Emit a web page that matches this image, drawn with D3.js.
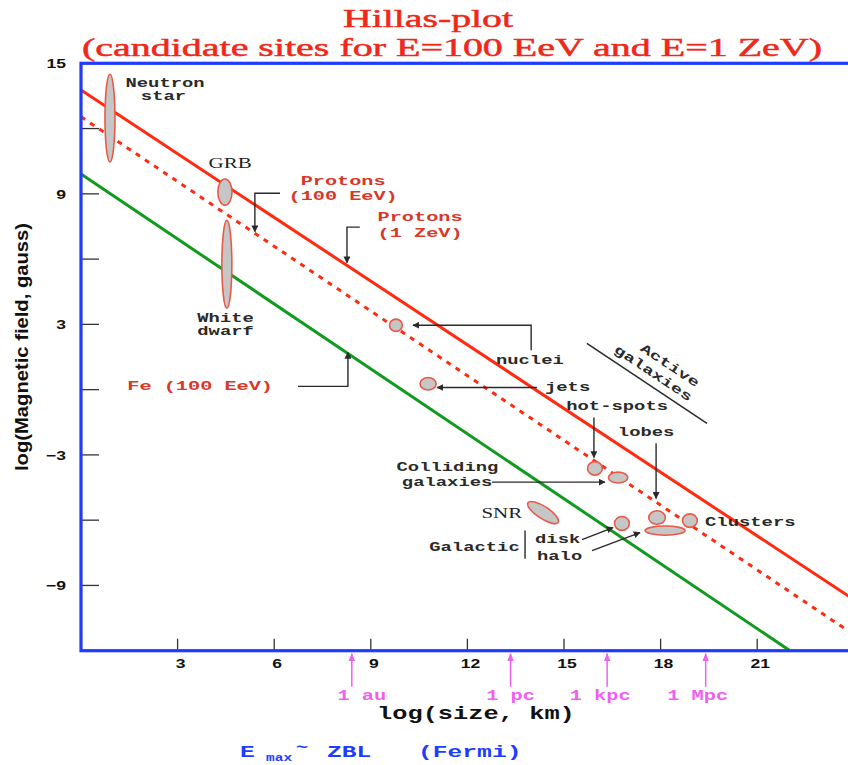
<!DOCTYPE html>
<html>
<head>
<meta charset="utf-8">
<script src="https://cdn.jsdelivr.net/npm/d3@7"></script>
<style>
  html, body { margin: 0; padding: 0; background: #fff; }
  svg { display: block; }
</style>
</head>
<body>
<div id="chart"></div>
<script>
// ---- data ----
const xTickValues = [3, 6, 9, 12, 15, 18, 21];
const yTickValues = [12, 9, 6, 3, 0, -3, -6, -9];
const yTickLabels = [15, 9, 3, -3, -9];

// limit lines: log B vs log size (two end points each)
const protons1ZeV = [[0, 13.77], [24, -9.65]];
const protons100EeV = [[0, 12.54], [24, -11.26]];
const iron100EeV = [[0, 9.91], [22.02, -12]];

// candidate sites: centre and half-extent in log units
const siteNames = ['Neutron star', 'GRB', 'White dwarf', 'nuclei', 'jets', 'hot-spots',
  'Colliding galaxies', 'SNR', 'disk', 'lobes', 'halo', 'Clusters'];
const siteLogSize = [0.90, 4.47, 4.53, 9.78, 10.78, 15.96, 16.68, 14.35, 16.80, 17.89, 18.14, 18.91];
const siteLogB = [12.48, 9.08, 5.76, 2.96, 0.27, -3.62, -4.04, -5.65, -6.15, -5.88, -6.48, -6.02];
const siteSizeSpread = [0.155, 0.22, 0.155, 0.2, 0.25, 0.23, 0.3, 0.56, 0.23, 0.26, 0.62, 0.23];
const siteBSpread = [2.02, 0.6, 2.02, 0.28, 0.29, 0.31, 0.25, 0.28, 0.32, 0.31, 0.21, 0.31];
const siteTilt = [0, 0, 0, 0, 0, 0, 0, 33, 0, 0, 0, 0];

// distance markers under the size axis
const distanceNames = ['1 au', '1 pc', '1 kpc', '1 Mpc'];
const distanceLogKm = [8.41, 13.34, 16.34, 19.40];

// ---- layout ----
const W = 848, H = 765;
const SX = 1.45; // the original picture is stretched sideways
const MONO = '"Liberation Mono", "DejaVu Sans Mono", monospace';
const SANS = '"Liberation Sans", Arial, sans-serif';
const SERIF = '"Liberation Serif", "Times New Roman", serif';
const RED = '#f02818';
const LABEL_RED = '#d8382a';
const BLUE = '#1e3cff';
const INK = '#2a2a2a';

const x = d3.scaleLinear().domain([0, 24]).range([81, 853.8]);
const y = d3.scaleLinear().domain([-12, 15]).range([650.7, 63.3]);

const svg = d3.select('#chart').append('svg')
  .attr('width', W).attr('height', H)
  .attr('viewBox', `0 0 ${W} ${H}`);

const defs = svg.append('defs');
defs.append('marker')
  .attr('id', 'arrow')
  .attr('viewBox', '0 0 10 10')
  .attr('refX', 9).attr('refY', 5)
  .attr('markerWidth', 7).attr('markerHeight', 7)
  .attr('markerUnits', 'userSpaceOnUse')
  .attr('orient', 'auto')
  .append('path').attr('d', 'M0,0 L10,5 L0,10 z').attr('fill', INK);
defs.append('marker')
  .attr('id', 'arrowPink')
  .attr('viewBox', '0 0 10 10')
  .attr('refX', 9).attr('refY', 5)
  .attr('markerWidth', 8).attr('markerHeight', 8)
  .attr('markerUnits', 'userSpaceOnUse')
  .attr('orient', 'auto')
  .append('path').attr('d', 'M0,1 L10,5 L0,9 z').attr('fill', '#f060f0');

// stretched text helper
function label(g, txt, px, py, o = {}) {
  return g.append('text')
    .attr('transform', `translate(${px},${py}) scale(${o.sx || SX},1)`)
    .attr('text-anchor', o.anchor || 'middle')
    .style('font-family', o.font || MONO)
    .style('font-weight', o.weight || 700)
    .style('font-size', (o.size || 13) + 'px')
    .attr('fill', o.fill || INK)
    .text(txt);
}

// ---- title ----
const titleLines = [['Hillas-plot', 428, 27, 170], ['(candidate sites for E=100 EeV and E=1 ZeV)', 452, 56, 740]];
titleLines.forEach(([t, cx, by, len]) => {
  svg.append('text')
    .attr('x', cx).attr('y', by)
    .attr('text-anchor', 'middle')
    .attr('textLength', len).attr('lengthAdjust', 'spacingAndGlyphs')
    .style('font-family', SERIF).style('font-size', '26px')
    .attr('fill', RED).attr('stroke', RED).attr('stroke-width', 0.5)
    .text(t);
});

// ---- ticks (inside the frame) ----
const axes = svg.append('g');
axes.selectAll('line.xt').data(xTickValues).join('line')
  .attr('x1', d => x(d)).attr('x2', d => x(d))
  .attr('y1', y(-12)).attr('y2', y(-12) - 12)
  .attr('stroke', '#333').attr('stroke-width', 1.3);
axes.selectAll('line.yt').data(yTickValues).join('line')
  .attr('x1', x(0)).attr('x2', x(0) + 18)
  .attr('y1', d => y(d)).attr('y2', d => y(d))
  .attr('stroke', '#333').attr('stroke-width', 1.3);

xTickValues.forEach(v => label(axes, v, x(v) + 3, 668, { font: SANS, size: 13, sx: 1.35, fill: '#111' }));
yTickLabels.forEach(v => label(axes, v < 0 ? '\u2212' + Math.abs(v) : v, 66, y(v) + 5,
  { font: SANS, size: 13, sx: 1.35, anchor: 'end', fill: '#111' }));

// y axis title
svg.append('text')
  .attr('transform', `translate(28,347) rotate(-90) scale(1,1.35)`)
  .attr('text-anchor', 'middle')
  .attr('textLength', 248).attr('lengthAdjust', 'spacingAndGlyphs')
  .style('font-family', SANS).style('font-weight', 700).style('font-size', '14px')
  .attr('fill', '#111')
  .text('log(Magnetic field, gauss)');

// x axis title
label(svg, 'log(size, km)', 377, 719, { size: 17.5, anchor: 'start', fill: '#111' });

// distance markers
const dist = svg.append('g');
const distLabelShift = [10, 0, -7, -8];
distanceLogKm.forEach((v, i) => {
  dist.append('line')
    .attr('x1', x(v)).attr('x2', x(v))
    .attr('y1', y(-12) + 36).attr('y2', y(-12) + 3)
    .attr('stroke', '#f060f0').attr('stroke-width', 1.5)
    .attr('marker-end', 'url(#arrowPink)');
  label(dist, distanceNames[i], x(v) + distLabelShift[i], 700, { size: 14, fill: '#f060f0' });
});

// ---- limit lines ----
const line = d3.line().x(d => x(d[0])).y(d => y(d[1]));
const lines = svg.append('g').attr('fill', 'none');
lines.append('path').datum(iron100EeV).attr('d', line)
  .attr('stroke', '#119a1e').attr('stroke-width', 3);
lines.append('path').datum(protons100EeV).attr('d', line)
  .attr('stroke', '#ff2a10').attr('stroke-width', 3)
  .attr('stroke-dasharray', '5,6');
lines.append('path').datum(protons1ZeV).attr('d', line)
  .attr('stroke', '#ff2a10').attr('stroke-width', 3);

// ---- frame ----
svg.append('rect')
  .attr('x', x(0)).attr('y', y(15))
  .attr('width', x(24) - x(0)).attr('height', y(-12) - y(15))
  .attr('fill', 'none').attr('stroke', BLUE).attr('stroke-width', 3.2);

// ---- candidate sites ----
svg.append('g').selectAll('ellipse')
  .data(siteNames)
  .join('ellipse')
  .attr('cx', (d, i) => x(siteLogSize[i]))
  .attr('cy', (d, i) => y(siteLogB[i]))
  .attr('rx', (d, i) => x(siteLogSize[i] + siteSizeSpread[i]) - x(siteLogSize[i]))
  .attr('ry', (d, i) => y(siteLogB[i] - siteBSpread[i]) - y(siteLogB[i]))
  .attr('transform', (d, i) => siteTilt[i]
    ? `rotate(${siteTilt[i]},${x(siteLogSize[i])},${y(siteLogB[i])})` : null)
  .attr('fill', '#c6c6c6')
  .attr('stroke', '#e85a48')
  .attr('stroke-width', 1.6);

// ---- annotation pointers (log size, log B) ----
const pointers = [
  [[6.18, 9.03], [5.40, 9.03], [5.40, 7.26]],
  [[8.66, 7.47], [8.26, 7.47], [8.26, 5.83]],
  [[6.74, 0.15], [8.29, 0.15], [8.29, 1.71]],
  [[13.98, 1.81], [13.98, 2.96], [10.31, 2.96]],
  [[14.16, 0.10], [11.06, 0.10]],
  [[15.93, -1.28], [15.93, -3.12]],
  [[17.86, -2.47], [17.86, -5.0]],
  [[12.76, -4.25], [16.27, -4.25]],
  [[15.56, -6.89], [16.52, -6.34]],
  [[15.87, -7.40], [17.36, -6.57]]
];
const notes = svg.append('g');
notes.selectAll('path.ptr').data(pointers).join('path')
  .attr('d', line)
  .attr('fill', 'none').attr('stroke', INK).attr('stroke-width', 1.4)
  .attr('marker-end', 'url(#arrow)');

// galactic bracket
notes.append('line')
  .attr('x1', x(13.79)).attr('x2', x(13.79))
  .attr('y1', y(-6.48)).attr('y2', y(-7.77))
  .attr('stroke', INK).attr('stroke-width', 1.4);

// active galaxies guide line and rotated label
const agA = [15.71, 2.13], agB = [19.44, -1.55];
notes.append('line')
  .attr('x1', x(agA[0])).attr('y1', y(agA[1]))
  .attr('x2', x(agB[0])).attr('y2', y(agB[1]))
  .attr('stroke', INK).attr('stroke-width', 1.5);
const agAngle = Math.atan2(y(agB[1]) - y(agA[1]), x(agB[0]) - x(agA[0])) * 180 / Math.PI;
[['Active', 18.22, 0.96], ['galaxies', 17.70, 0.60]].forEach(([t, a, b]) => {
  notes.append('text')
    .attr('transform', `translate(${x(a)},${y(b)}) rotate(${agAngle}) scale(${SX},1)`)
    .attr('text-anchor', 'middle')
    .style('font-family', MONO).style('font-weight', 700).style('font-size', '13px')
    .attr('fill', INK)
    .text(t);
});

// black labels
const blackNotes = [
  ['Neutron', 2.61, 13.91, 'middle'], ['star', 2.56, 13.31, 'middle'],
  ['White', 4.49, 3.11, 'middle'], ['dwarf', 4.49, 2.50, 'middle'],
  ['nuclei', 13.94, 1.18, 'middle'], ['jets', 14.41, -0.08, 'start'],
  ['hot-spots', 16.65, -0.95, 'middle'], ['lobes', 17.55, -2.11, 'middle'],
  ['Colliding', 11.38, -3.76, 'middle'], ['galaxies', 11.37, -4.41, 'middle'],
  ['Galactic', 12.22, -7.40, 'middle'], ['disk', 14.10, -7.07, 'start'],
  ['halo', 14.16, -7.81, 'start'], ['Clusters', 19.38, -6.25, 'start']
];
blackNotes.forEach(([t, a, b, anc]) => label(notes, t, x(a), y(b), { anchor: anc }));

// serif labels
[['GRB', 4.63, 10.18], ['SNR', 13.07, -5.88]].forEach(([t, a, b]) =>
  label(notes, t, x(a), y(b), { font: SERIF, weight: 400, size: 14.5, fill: '#222' }));

// red labels for the limit lines
const redNotes = [
  ['Protons', 8.14, 9.40], ['(100 EeV)', 8.14, 8.71],
  ['Protons', 10.53, 7.74], ['(1 ZeV)', 10.53, 7.01],
  ['Fe (100 EeV)', 3.70, -0.03]
];
redNotes.forEach(([t, a, b]) => label(notes, t, x(a), y(b), { size: 13.5, sx: 1.5, fill: LABEL_RED }));

// ---- footer: E_max ~ ZBL (Fermi) ----
const foot = svg.append('g');
label(foot, 'E', 240, 757, { size: 17, anchor: 'start', fill: BLUE });
label(foot, 'max', 266, 761, { size: 10, anchor: 'start', fill: BLUE });
label(foot, '~', 296, 752, { size: 14, anchor: 'start', fill: BLUE });
label(foot, 'ZBL', 327, 757, { size: 17, anchor: 'start', fill: BLUE });
label(foot, '(Fermi)', 418, 757, { size: 17, anchor: 'start', fill: BLUE });
</script>
</body>
</html>
